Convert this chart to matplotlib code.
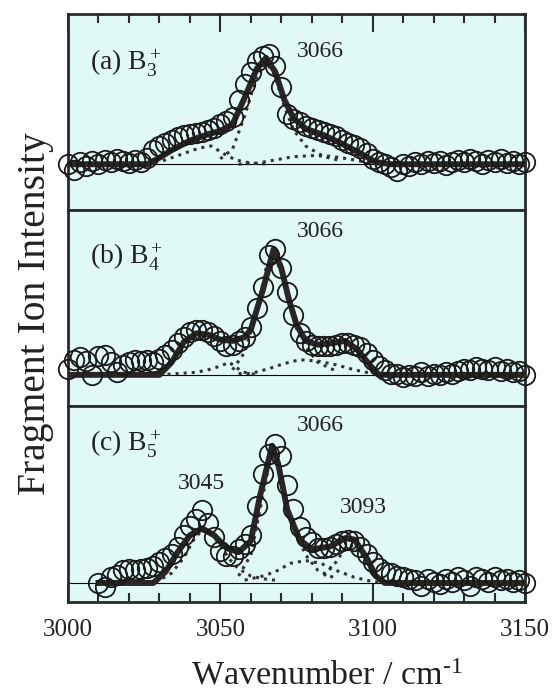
import numpy as np
import matplotlib
matplotlib.use("Agg")
import matplotlib.pyplot as plt

plt.rcParams['font.family'] = ['Liberation Serif', 'DejaVu Serif']
plt.rcParams['mathtext.fontset'] = 'custom'
plt.rcParams['mathtext.rm'] = 'Liberation Serif'
plt.rcParams['mathtext.it'] = 'Liberation Serif:italic'
plt.rcParams['mathtext.bf'] = 'Liberation Serif:bold'

# ---- panel (a) B3+ ----
wn_a = np.arange(3000, 3151, 2)
int_a = [0.00, -0.05, 0.02, -0.02, 0.03, 0.00, 0.04, 0.02, 0.05, 0.03,
         0.01, 0.04, 0.02, 0.06, 0.13, 0.17, 0.20, 0.23, 0.25, 0.27,
         0.28, 0.29, 0.30, 0.32, 0.34, 0.37, 0.40, 0.44, 0.60, 0.75,
         0.86, 0.96, 1.01, 1.03, 0.91, 0.72, 0.47, 0.42, 0.39, 0.36,
         0.34, 0.32, 0.30, 0.28, 0.26, 0.23, 0.20, 0.18, 0.15, 0.10,
         0.05, 0.02, 0.00, -0.03, -0.06, 0.00, -0.02, 0.02, 0.00, 0.03,
         0.01, 0.03, -0.01, 0.02, 0.04, 0.02, 0.05, 0.03, 0.00, 0.04,
         0.02, 0.05, 0.01, 0.03, 0.00, 0.02]
fit_a_x = [3000, 3026, 3030, 3034, 3040, 3046, 3050, 3054, 3058, 3062, 3065,
           3068, 3071, 3074, 3078, 3084, 3090, 3096, 3101, 3106, 3150]
fit_a_y = [0, 0, 0.06, 0.13, 0.22, 0.28, 0.31, 0.37, 0.62, 0.89, 0.99,
           0.86, 0.60, 0.43, 0.33, 0.27, 0.19, 0.10, 0.02, 0, 0]
compL_a_x = [3026, 3032, 3038, 3043, 3047, 3051, 3055, 3060, 3066]
compL_a_y = [0, 0.04, 0.10, 0.15, 0.17, 0.10, 0.04, 0.01, 0]
compM_a_x = [3050, 3054, 3058, 3062, 3065, 3068, 3071, 3074, 3078, 3084, 3090]
compM_a_y = [0.05, 0.14, 0.45, 0.82, 0.95, 0.82, 0.54, 0.32, 0.17, 0.07, 0.03]
compB_a_x = [3056, 3062, 3068, 3074, 3080, 3086, 3092, 3098, 3102]
compB_a_y = [0, 0.01, 0.04, 0.07, 0.08, 0.075, 0.05, 0.02, 0]

# ---- panel (b) B4+ ----
wn_b = np.arange(3000, 3151, 2)
int_b = [0.05, 0.12, 0.14, 0.11, 0.00, 0.15, 0.16, 0.10, 0.02, 0.08,
         0.10, 0.12, 0.11, 0.12, 0.10, 0.13, 0.16, 0.20, 0.25, 0.30,
         0.34, 0.36, 0.36, 0.34, 0.31, 0.27, 0.23, 0.24, 0.27, 0.30,
         0.38, 0.53, 0.70, 0.95, 1.00, 0.85, 0.66, 0.48, 0.33, 0.27,
         0.24, 0.23, 0.23, 0.23, 0.24, 0.25, 0.25, 0.24, 0.22, 0.17,
         0.12, 0.07, 0.04, 0.01, 0.01, -0.02, 0.00, -0.01, 0.02, -0.01,
         0.01, 0.00, 0.02, 0.01, 0.03, 0.05, 0.04, 0.06, 0.05, 0.04,
         0.06, 0.03, 0.05, 0.02, 0.03, 0.00]
fit_b_x = [3000, 3030, 3034, 3038, 3042, 3046, 3050, 3054, 3058, 3060, 3064,
           3067.5, 3070, 3072.5, 3075, 3078, 3082, 3086, 3091, 3095, 3099,
           3102, 3150]
fit_b_y = [0, 0, 0.10, 0.26, 0.33, 0.32, 0.28, 0.27, 0.30, 0.36, 0.68,
           1.00, 0.85, 0.60, 0.40, 0.27, 0.24, 0.25, 0.27, 0.20, 0.08,
           0.0, 0]
compL_b_x = [3030, 3036, 3042, 3046, 3050, 3053, 3055, 3058, 3062]
compL_b_y = [0, 0.01, 0.02, 0.04, 0.07, 0.10, 0.06, 0.02, 0.0]
compM_b_x = [3054, 3058, 3062, 3065, 3067.5, 3070, 3072.5, 3075, 3078, 3082, 3088]
compM_b_y = [0.04, 0.18, 0.50, 0.85, 0.97, 0.82, 0.58, 0.37, 0.22, 0.10, 0.03]
compB_b_x = [3056, 3060, 3066, 3071, 3076, 3082, 3088, 3094, 3100]
compB_b_y = [0.01, 0.01, 0.05, 0.09, 0.12, 0.11, 0.08, 0.04, 0.01]

# ---- panel (c) B5+ ----
wn_c = np.arange(3010, 3151, 2)
int_c = [0.00, -0.03, 0.04, 0.06, 0.09, 0.10, 0.09, 0.10, 0.11, 0.12,
         0.15, 0.18, 0.21, 0.26, 0.34, 0.41, 0.46, 0.52, 0.43, 0.33,
         0.23, 0.19, 0.19, 0.24, 0.28, 0.34, 0.55, 0.78, 0.92, 0.99,
         0.91, 0.70, 0.53, 0.40, 0.33, 0.29, 0.25, 0.25, 0.26, 0.28,
         0.30, 0.31, 0.30, 0.26, 0.21, 0.15, 0.11, 0.08, 0.07, 0.05,
         0.04, 0.03, 0.02, -0.02, 0.03, 0.01, -0.01, 0.03, 0.01, 0.04,
         0.02, -0.02, 0.04, 0.03, 0.01, 0.04, 0.02, 0.03, 0.01, 0.02, 0.00]
fit_c_x = [3010, 3028, 3032, 3036, 3040, 3044, 3048, 3052, 3056, 3060, 3063,
           3067, 3069, 3072, 3076, 3080, 3086, 3091, 3094, 3098, 3101, 3104, 3150]
fit_c_y = [0, 0, 0.08, 0.22, 0.34, 0.39, 0.34, 0.25, 0.22, 0.30, 0.62,
           0.98, 0.85, 0.52, 0.31, 0.24, 0.26, 0.32, 0.31, 0.18, 0.05, 0, 0]
compL_c_x = [3026, 3030, 3034, 3038, 3041, 3044, 3047, 3050, 3053, 3056, 3060, 3064, 3068]
compL_c_y = [0, 0.02, 0.07, 0.18, 0.30, 0.38, 0.35, 0.27, 0.17, 0.10, 0.05, 0.03, 0.02]
compM_c_x = [3056, 3060, 3063, 3067, 3069, 3072, 3075, 3078, 3082, 3088]
compM_c_y = [0.05, 0.20, 0.52, 0.95, 0.85, 0.56, 0.35, 0.20, 0.09, 0.03]
compB_c_x = [3058, 3064, 3068, 3073, 3078, 3083, 3088, 3094, 3100, 3104]
compB_c_y = [0.02, 0.05, 0.08, 0.14, 0.16, 0.14, 0.09, 0.04, 0.01, 0]
compR_c_x = [3084, 3088, 3091, 3094, 3097, 3100, 3104]
compR_c_y = [0.05, 0.15, 0.25, 0.27, 0.18, 0.06, 0]

labels = ['(a) B$_3^+$', '(b) B$_4^+$', '(c) B$_5^+$']
label_y = [0.714, 0.722, 0.77]
ylims = [(-0.426, 1.398), (-0.248, 1.312), (-0.136, 1.264)]

panels = [
    (wn_a, int_a, fit_a_x, fit_a_y,
     [(compL_a_x, compL_a_y), (compM_a_x, compM_a_y), (compB_a_x, compB_a_y)]),
    (wn_b, int_b, fit_b_x, fit_b_y,
     [(compL_b_x, compL_b_y), (compM_b_x, compM_b_y), (compB_b_x, compB_b_y)]),
    (wn_c, int_c, fit_c_x, fit_c_y,
     [(compL_c_x, compL_c_y), (compM_c_x, compM_c_y), (compB_c_x, compB_c_y),
      (compR_c_x, compR_c_y)]),
]

bg = '#e0f9f6'
frame = '#2a2a2a'
ink = '#222222'

fig, axes = plt.subplots(3, 1, sharex=True, figsize=(5.53, 6.96), dpi=100,
                         gridspec_kw={'hspace': 0})
fig.subplots_adjust(left=68/553, right=525/553, top=1-14/696, bottom=1-602/696)

for i, ax in enumerate(axes):
    wn, inten, fx, fy, comps = panels[i]
    ax.set_facecolor(bg)
    ax.axhline(0, color='black', lw=0.8, zorder=1)
    for cx, cy in comps:
        ax.plot(cx, cy, ls=':', color='#333333', lw=2.2, zorder=2)
    ax.plot(fx, fy, color='#2b2626', lw=4.3, zorder=3, solid_joinstyle='round')
    ax.plot(wn, inten, 'o', ms=14, mfc='none', mec='#1a1a1a', mew=1.3,
            zorder=4, clip_on=False)
    ax.set_ylim(*ylims[i])
    ax.set_yticks([])
    for s in ax.spines.values():
        s.set_linewidth(2.0)
        s.set_color(frame)
    ax.text(0.048, label_y[i], labels[i], transform=ax.transAxes,
            fontsize=20, color=ink)

axes[0].set_xlim(3000, 3150)
axes[0].set_xticks([3000, 3050, 3100, 3150])
axes[0].set_xticks(np.arange(3000, 3151, 10), minor=True)

axes[0].tick_params(axis='x', which='both', direction='in', top=True,
                    bottom=False, labelbottom=False, labeltop=False,
                    color=frame, width=1.5)
axes[1].tick_params(axis='x', which='both', top=False, bottom=False,
                    labelbottom=False)
axes[2].tick_params(axis='x', which='both', direction='in', top=False,
                    bottom=True, labelbottom=True, color=frame, width=1.5,
                    labelsize=18, pad=12, labelcolor=ink)
for ax in (axes[0], axes[2]):
    ax.tick_params(axis='x', which='major', length=13)
    ax.tick_params(axis='x', which='minor', length=6.5)

# peak position labels
axes[0].text(3083, 0.78, '3066', transform=axes[0].get_xaxis_transform(),
             ha='center', fontsize=17, color=ink)
axes[1].text(3083, 0.864, '3066', transform=axes[1].get_xaxis_transform(),
             ha='center', fontsize=17, color=ink)
axes[2].text(3083, 0.873, '3066', transform=axes[2].get_xaxis_transform(),
             ha='center', fontsize=17, color=ink)
axes[2].text(3043.7, 0.579, '3045', transform=axes[2].get_xaxis_transform(),
             ha='center', fontsize=17, color=ink)
axes[2].text(3097, 0.452, '3093', transform=axes[2].get_xaxis_transform(),
             ha='center', fontsize=17, color=ink)

fig.text(36/553, 1-314/696, 'Fragment Ion Intensity', rotation=90,
         ha='center', va='center', fontsize=28.5, color=ink)
fig.text(327/553, 1-676/696, r'Wavenumber / cm$^{\text{-}1}$', ha='center',
         va='center', fontsize=24.5, color=ink)

fig.savefig('out.png', dpi=100)
